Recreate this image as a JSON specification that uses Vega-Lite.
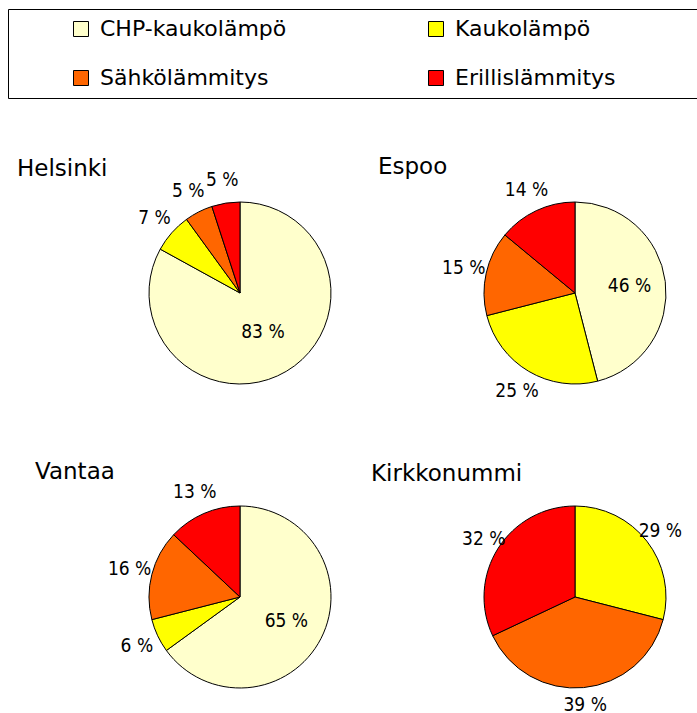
{
  "$schema": "https://vega.github.io/schema/vega-lite/v6.json",
  "padding": {"left": 7, "top": 8, "right": 0, "bottom": 0},
  "background": "white",
  "bounds": "flush",
  "columns": 2,
  "spacing": {"column": 153, "row": 122},
  "config": {
    "view": {"stroke": null},
    "font": "DejaVu Sans",
    "title": {"font": "DejaVu Sans", "fontSize": 23, "fontWeight": "normal", "color": "black", "anchor": "start", "frame": "group", "baseline": "alphabetic"}
  },
  "data": {
    "values": [
      {"kaupunki": "Helsinki", "lammitysmuoto": "CHP-kaukolämpö", "osuus": 83, "nro": 1},
      {"kaupunki": "Helsinki", "lammitysmuoto": "Kaukolämpö", "osuus": 7, "nro": 2},
      {"kaupunki": "Helsinki", "lammitysmuoto": "Sähkölämmitys", "osuus": 5, "nro": 3},
      {"kaupunki": "Helsinki", "lammitysmuoto": "Erillislämmitys", "osuus": 5, "nro": 4},
      {"kaupunki": "Espoo", "lammitysmuoto": "CHP-kaukolämpö", "osuus": 46, "nro": 1},
      {"kaupunki": "Espoo", "lammitysmuoto": "Kaukolämpö", "osuus": 25, "nro": 2},
      {"kaupunki": "Espoo", "lammitysmuoto": "Sähkölämmitys", "osuus": 15, "nro": 3},
      {"kaupunki": "Espoo", "lammitysmuoto": "Erillislämmitys", "osuus": 14, "nro": 4},
      {"kaupunki": "Vantaa", "lammitysmuoto": "CHP-kaukolämpö", "osuus": 65, "nro": 1},
      {"kaupunki": "Vantaa", "lammitysmuoto": "Kaukolämpö", "osuus": 6, "nro": 2},
      {"kaupunki": "Vantaa", "lammitysmuoto": "Sähkölämmitys", "osuus": 16, "nro": 3},
      {"kaupunki": "Vantaa", "lammitysmuoto": "Erillislämmitys", "osuus": 13, "nro": 4},
      {"kaupunki": "Kirkkonummi", "lammitysmuoto": "Kaukolämpö", "osuus": 29, "nro": 2},
      {"kaupunki": "Kirkkonummi", "lammitysmuoto": "Sähkölämmitys", "osuus": 39, "nro": 3},
      {"kaupunki": "Kirkkonummi", "lammitysmuoto": "Erillislämmitys", "osuus": 32, "nro": 4}
    ]
  },
  "transform": [{"calculate": "datum.osuus + ' %'", "as": "teksti"}],
  "resolve": {"scale": {"color": "shared"}, "legend": {"color": "shared"}},
  "concat": [
    {
      "title": {"text": "Helsinki", "dx": -132, "offset": -10},
      "width": 182, "height": 182,
      "transform": [{"filter": "datum.kaupunki === 'Helsinki'"}],
      "encoding": {
        "theta": {"field": "osuus", "type": "quantitative", "stack": true},
        "order": {"field": "nro", "type": "quantitative"}
      },
      "layer": [
        {"mark": {"type": "arc", "stroke": "black", "strokeWidth": 1},
         "encoding": {"color": {"field": "lammitysmuoto", "type": "nominal",
           "scale": {"domain": ["CHP-kaukolämpö", "Kaukolämpö", "Sähkölämmitys", "Erillislämmitys"], "range": ["#FFFFCC", "#FFFF00", "#FF6600", "#FF0000"]},
           "legend": {"title": null, "orient": "none", "legendX": -141, "legendY": -193, "columns": 2, "direction": "horizontal", "strokeColor": "black", "padding": 9,
             "symbolType": "square", "symbolSize": 225, "symbolStrokeColor": "black", "symbolStrokeWidth": 1, "symbolOffset": 53, "labelOffset": 8,
             "labelFont": "DejaVu Sans", "labelFontSize": 22, "labelColor": "black", "labelLimit": 800, "rowPadding": 27, "columnPadding": 8,
             "labelExpr": "datum.label + '\u00a0\u00a0\u00a0\u00a0\u00a0\u00a0\u00a0\u00a0\u00a0\u00a0\u00a0\u200b'"}}}},
        {"mark": {"type": "text", "radius": {"expr": "datum.osuus >= 45 ? 45 : 114"}, "font": "Liberation Sans Narrow, DejaVu Sans Condensed, Liberation Sans", "fontSize": 19, "fill": "black"},
         "encoding": {"detail": {"field": "lammitysmuoto", "type": "nominal"}, "text": {"field": "teksti", "type": "nominal"}}}
      ]
    },
    {
      "title": {"text": "Espoo", "dx": -106, "offset": 2},
      "width": 182, "height": 182,
      "transform": [{"filter": "datum.kaupunki === 'Espoo'"}],
      "encoding": {
        "theta": {"field": "osuus", "type": "quantitative", "stack": true},
        "order": {"field": "nro", "type": "quantitative"}
      },
      "layer": [
        {"mark": {"type": "arc", "stroke": "black", "strokeWidth": 1},
         "encoding": {"color": {"field": "lammitysmuoto", "type": "nominal",
           "scale": {"domain": ["CHP-kaukolämpö", "Kaukolämpö", "Sähkölämmitys", "Erillislämmitys"], "range": ["#FFFFCC", "#FFFF00", "#FF6600", "#FF0000"]}}}},
        {"mark": {"type": "text", "radius": {"expr": "datum.osuus >= 45 ? 55 : 114"}, "font": "Liberation Sans Narrow, DejaVu Sans Condensed, Liberation Sans", "fontSize": 19, "fill": "black"},
         "encoding": {"detail": {"field": "lammitysmuoto", "type": "nominal"}, "text": {"field": "teksti", "type": "nominal"}}}
      ]
    },
    {
      "title": {"text": "Vantaa", "dx": -114, "offset": -1},
      "width": 182, "height": 182,
      "transform": [{"filter": "datum.kaupunki === 'Vantaa'"}],
      "encoding": {
        "theta": {"field": "osuus", "type": "quantitative", "stack": true},
        "order": {"field": "nro", "type": "quantitative"}
      },
      "layer": [
        {"mark": {"type": "arc", "stroke": "black", "strokeWidth": 1},
         "encoding": {"color": {"field": "lammitysmuoto", "type": "nominal",
           "scale": {"domain": ["CHP-kaukolämpö", "Kaukolämpö", "Sähkölämmitys", "Erillislämmitys"], "range": ["#FFFFCC", "#FFFF00", "#FF6600", "#FF0000"]}}}},
        {"mark": {"type": "text", "radius": {"expr": "datum.osuus >= 45 ? 52 : 114"}, "font": "Liberation Sans Narrow, DejaVu Sans Condensed, Liberation Sans", "fontSize": 19, "fill": "black"},
         "encoding": {"detail": {"field": "lammitysmuoto", "type": "nominal"}, "text": {"field": "teksti", "type": "nominal"}}}
      ]
    },
    {
      "title": {"text": "Kirkkonummi", "dx": -113, "offset": 18},
      "width": 182, "height": 182,
      "transform": [{"filter": "datum.kaupunki === 'Kirkkonummi'"}],
      "encoding": {
        "theta": {"field": "osuus", "type": "quantitative", "stack": true},
        "order": {"field": "nro", "type": "quantitative"}
      },
      "layer": [
        {"mark": {"type": "arc", "stroke": "black", "strokeWidth": 1},
         "encoding": {"color": {"field": "lammitysmuoto", "type": "nominal",
           "scale": {"domain": ["CHP-kaukolämpö", "Kaukolämpö", "Sähkölämmitys", "Erillislämmitys"], "range": ["#FFFFCC", "#FFFF00", "#FF6600", "#FF0000"]}}}},
        {"mark": {"type": "text", "radius": {"expr": "datum.osuus >= 45 ? 50 : 108"}, "font": "Liberation Sans Narrow, DejaVu Sans Condensed, Liberation Sans", "fontSize": 19, "fill": "black"},
         "encoding": {"detail": {"field": "lammitysmuoto", "type": "nominal"}, "text": {"field": "teksti", "type": "nominal"}}}
      ]
    }
  ]
}
